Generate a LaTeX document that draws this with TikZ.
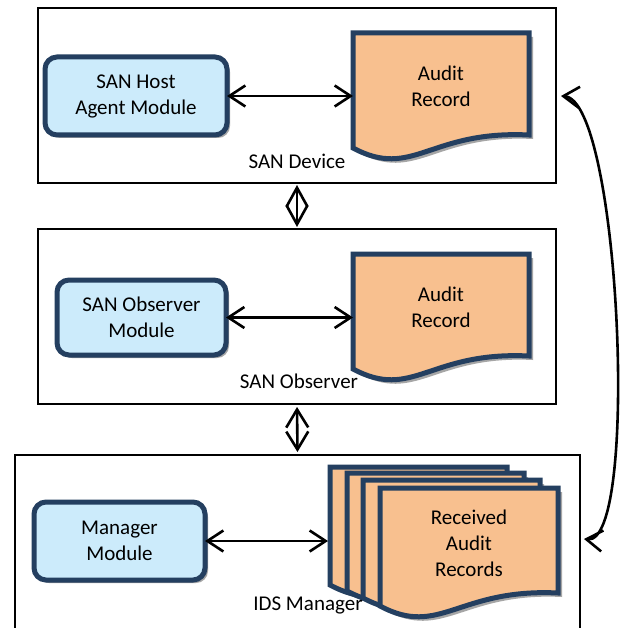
\documentclass[tikz,border=0pt]{standalone}
\usepackage{fontspec}
\setmainfont{Carlito}
\usetikzlibrary{arrows.meta,shadows,calc}
\definecolor{navy}{HTML}{243F60}
\definecolor{modfill}{HTML}{CCEBFB}
\definecolor{docfill}{HTML}{F8C08F}
\definecolor{shgray}{HTML}{A6A6A6}
\newcommand{\docpath}[2]{(0,0) -- (#1,0) -- (#1,#2) .. controls ({#1-100},{#2-5}) and (60,{#2+45}) .. (0,{#2+13}) -- cycle}
\newcommand{\docpage}[4]{%
  \begin{scope}[shift={(#1,#2)}]
    \fill[shgray, shift={(4,4)}] \docpath{#3}{#4};
    \draw[docbody] \docpath{#3}{#4};
  \end{scope}}
\begin{document}
\begin{tikzpicture}[x=1pt,y=-1pt,
  every node/.style={font=\fontsize{21}{26}\selectfont, align=center, inner sep=0pt, outer sep=0pt},
  frame/.style={draw=black, line width=2.6pt, fill=white, anchor=north west, minimum width=518pt, minimum height=175pt},
  module/.style={draw=navy, fill=modfill, line width=5pt, rounded corners=12pt,
     general shadow={fill=shgray, shadow xshift=3pt, shadow yshift=-3pt}},
  docbody/.style={draw=navy, fill=docfill, line width=5pt, line join=miter},
  doctext/.style={minimum width=176pt, minimum height=102pt},
  biarrow/.style={line width=2.6pt, {Straight Barb[length=16pt,width=21pt]}-{Straight Barb[length=16pt,width=21pt]}},
  diamarrow/.style={line width=2.6pt, {Straight Barb[length=19pt,width=21pt]}-{Straight Barb[length=19pt,width=21pt]}},
  vertarrow/.style={line width=2.6pt, {Straight Barb[length=18pt,width=22pt]}-{Straight Barb[length=18pt,width=22pt]}}
]
\useasboundingbox (0,0) rectangle (631,628);

% frames
\node[frame] (devbox) at (38,8) {};
\node[frame] (obsbox) at (38,229) {};
\node[frame, minimum width=565pt, minimum height=185pt] (idsbox) at (15,455) {};

% modules
\node[module, minimum width=182pt, minimum height=78pt] (hostmod) at (136,96) {SAN Host\\Agent Module};
\node[module, minimum width=169pt, minimum height=75pt] (obsmod) at (141.5,317.5) {SAN Observer\\Module};
\node[module, minimum width=171pt, minimum height=78pt] (mgrmod) at (119.5,541) {Manager\\Module};

% documents
\docpage{353}{33}{176}{102}
\node[doctext] (doc1) at (441,86) {Audit\\Record};
\docpage{353}{254}{176}{102}
\node[doctext] (doc2) at (441,307) {Audit\\Record};
\docpage{330}{467}{177}{105}
\docpage{347}{473}{177}{105}
\docpage{363}{480}{177}{105}
\docpage{380}{488}{178}{105}
\node[doctext, minimum width=178pt, minimum height=105pt] (recv) at (469,543) {Received\\Audit\\Records};

% labels
\node (lab1) at (297,161) {SAN Device};
\node (lab2) at (299,381) {SAN Observer};
\node (lab3) at (308,605) {IDS Manager};

% connectors
\draw[biarrow] (hostmod.east) -- (hostmod.east -| doc1.west);
\draw[biarrow] (obsmod.east) -- (obsmod.east -| doc2.west);
\coordinate (stk) at (328,541);
\draw[biarrow] (mgrmod.east) -- (mgrmod.east -| stk);

\draw[diamarrow, shorten <=2pt, shorten >=2pt] (devbox.south) -- (obsbox.north);
\draw[vertarrow, shorten <=3pt, shorten >=3pt] (obsbox.south) -- (idsbox.north);

\coordinate (cA) at (561,96);
\coordinate (cB) at (584,539);
\draw[biarrow] (cA) .. controls (620,100) and (640,545) .. (cB);
\end{tikzpicture}
\end{document}
